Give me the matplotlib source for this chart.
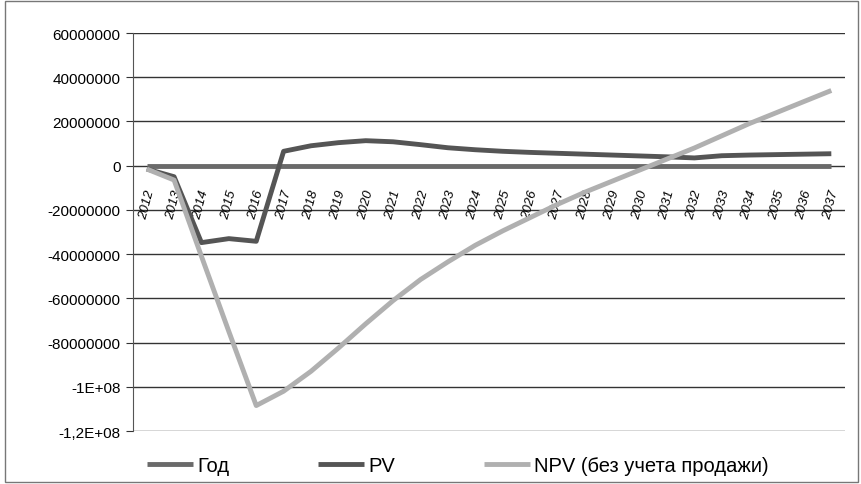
import numpy as np
import matplotlib.pyplot as plt
from matplotlib.patches import Rectangle

years = list(range(2012, 2038))
god = years  # the "Год" series, plotted as values (sits at ~0)
pv = [-1.5e6, -5.0e6, -34.8e6, -33.0e6, -34.2e6, 6.5e6, 9.0e6, 10.4e6, 11.3e6, 10.8e6,
      9.5e6, 8.1e6, 7.2e6, 6.5e6, 6.0e6, 5.6e6, 5.2e6, 4.8e6, 4.4e6, 4.0e6,
      3.5e6, 4.5e6, 4.8e6, 5.0e6, 5.2e6, 5.4e6]
npv = [-1.5e6, -6.5e6, -41e6, -75e6, -108.5e6, -102e6, -93e6, -82.5e6, -71.5e6, -61e6,
       -51.5e6, -43.5e6, -36e6, -29.5e6, -23.5e6, -17.5e6, -12e6, -7e6, -2e6, 3e6,
       8e6, 13.5e6, 19e6, 24e6, 29e6, 34e6]

yticks = [60e6, 40e6, 20e6, 0, -20e6, -40e6, -60e6, -80e6, -100e6, -120e6]
ylabels = ['60000000', '40000000', '20000000', '0', '-20000000', '-40000000',
           '-60000000', '-80000000', '-1E+08', '-1,2E+08']

plt.rcParams['font.family'] = ['Liberation Sans', 'DejaVu Sans']
narrow = ['Liberation Sans Narrow', 'Liberation Sans', 'DejaVu Sans']

fig = plt.figure(figsize=(8.61, 4.85), dpi=100)
ax = fig.add_axes([133 / 861, 1 - 432 / 485, (845 - 133) / 861, (432 - 34) / 485])

for s in ['top', 'right']:
    ax.spines[s].set_visible(False)
ax.spines['bottom'].set_position(('data', 0))
ax.spines['bottom'].set_visible(False)
ax.spines['left'].set_color('#555555')

x = np.arange(len(years))
for yv in yticks:
    ax.axhline(yv, color='#333333', lw=1.0, zorder=1)

ax.plot(x, god, color='#6a6a6a', lw=3.5, label='Год', zorder=3, solid_capstyle='butt')
ax.plot(x, pv, color='#555555', lw=3.5, label='PV', zorder=4, solid_capstyle='butt')
ax.plot(x, npv, color='#b0b0b0', lw=3.5, label='NPV (без учета продажи)', zorder=5,
        solid_capstyle='butt')

ax.set_xlim(-0.5, len(years) - 0.5)
ax.set_ylim(-120e6, 60e6)
ax.set_yticks(yticks)
ax.set_yticklabels(ylabels, fontsize=11)
ax.tick_params(axis='y', length=5, color='#333333', pad=4)

ax.set_xticks(x)
ax.set_xticklabels([str(y) for y in years], rotation=75, fontsize=9.5, style='italic',
                   family=narrow, ha='center', va='top')
ax.tick_params(axis='x', length=0, pad=16)

fig.legend(loc='center left', bbox_to_anchor=(147 / 861, 1 - 467 / 485), ncol=3,
           frameon=False, handlelength=2.3, columnspacing=4.4, handletextpad=0.2,
           borderpad=0, borderaxespad=0,
           prop={'family': narrow, 'size': 14.5})

fig.patches.append(Rectangle((5 / 861, 2 / 485), 853 / 861, 481 / 485, fill=False,
                             edgecolor='#777777', lw=1, transform=fig.transFigure))

fig.savefig('out.png', dpi=100)
